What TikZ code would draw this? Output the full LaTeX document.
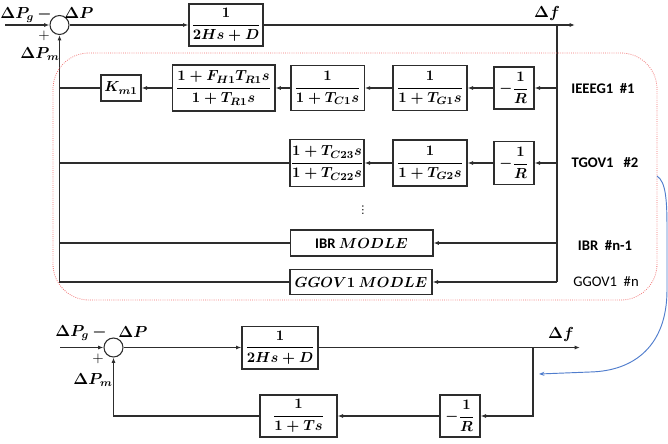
\documentclass[tikz,border=0pt]{standalone}
\usepackage{fontspec}
\setmainfont{Carlito}
\newfontfamily\dejavu{DejaVu Sans}
\usepackage{amsmath}
\usetikzlibrary{arrows.meta}
\definecolor{redbox}{RGB}{240,110,110}
\definecolor{bluec}{RGB}{80,125,205}
\definecolor{linec}{RGB}{45,45,45}
\begin{document}
\begin{tikzpicture}[x=0.75pt,y=-0.75pt,
  blk/.style={draw=linec, line width=1pt, inner sep=0pt, font=\fontsize{11}{13}\selectfont\boldmath},
  wire/.style={draw=linec, line width=0.8pt},
  arr/.style={wire, -{Latex[length=4pt,width=3pt]}},
  lbl/.style={font=\fontsize{11.5}{13}\selectfont\boldmath, inner sep=0pt},
  plus/.style={font=\fontsize{11}{13}\selectfont, inner sep=0pt},
  tag/.style={font=\fontsize{11}{13}\selectfont\bfseries, inner sep=0pt},
  tagn/.style={font=\fontsize{11}{13}\selectfont, inner sep=0pt},
  sumc/.style={circle, draw=linec, line width=0.8pt, minimum size=14.25pt, inner sep=0pt}]
\useasboundingbox (0,0) rectangle (668,443);

% ---------- top diagram ----------
\coordinate (in1) at (5,25);
\node[sumc] (s1) at (59.5,25) {};
\node[blk, minimum width=55.5pt, minimum height=31.5pt] (b1) at (226,25) {$\dfrac{1}{2Hs+D}$};
\coordinate (out1) at (575,25);
\coordinate (br1) at (557,25);

\node[lbl] (pg1) at (26,15) {$\Delta P_g\,-$};
\node[lbl] (dp1) at (79,13) {$\Delta P$};
\node[plus] (pl1) at (44,36) {$+$};
\node[lbl] (pm1) at (40,54) {$\Delta P_m$};
\node[lbl] (df1) at (547,13) {$\Delta f$};

% row 1
\node[blk, minimum width=30pt, minimum height=31.5pt] (r1) at (514,88) {$-\dfrac{1}{R}$};
\node[blk, minimum width=55.5pt, minimum height=33.75pt] (g1) at (430,88) {$\dfrac{1}{1+T_{G1}s}$};
\node[blk, minimum width=55pt, minimum height=33.75pt] (c1) at (327.5,88) {$\dfrac{1}{1+T_{C1}s}$};
\node[blk, minimum width=77pt, minimum height=34.5pt] (fh) at (223.5,88) {$\dfrac{1+F_{H1}T_{R1}s}{1+T_{R1}s}$};
\node[blk, minimum width=30pt, minimum height=19.5pt] (km) at (121,88) {$K_{m1}$};

% row 2
\node[blk, minimum width=30pt, minimum height=32pt] (r2) at (514,163) {$-\dfrac{1}{R}$};
\node[blk, minimum width=55.5pt, minimum height=34.5pt] (g2) at (430,163) {$\dfrac{1}{1+T_{G2}s}$};
\node[blk, minimum width=55.5pt, minimum height=35pt] (c2) at (327,163) {$\dfrac{1+T_{C23}s}{1+T_{C22}s}$};

\node[font=\dejavu\fontsize{8}{9}\selectfont, inner sep=0pt] (vd) at (363,210) {⋮};

% rows 3, 4
\node[blk, minimum width=107pt, minimum height=19.5pt] (ibr) at (361.5,243) {{\bfseries IBR} $MODLE$};
\node[blk, minimum width=106.5pt, minimum height=19pt] (gg) at (361,282) {$GGOV1\ MODLE$};

% right tags
\node[tag] (t1) at (603,89) {IEEEG1\ \ \#1};
\node[tag] (t2) at (605,163) {TGOV1\ \ \ \#2};
\node[tag] (t3) at (605,245) {IBR\ \ \#n-1};
\node[tagn] (t4) at (606,282) {GGOV1\ \ \#n};

% wires top
\draw[arr] (in1) -- (s1);
\draw[arr] (s1) -- (b1);
\draw[arr] (b1) -- (out1);
\draw[wire] (br1) -- (gg.east -| br1);
\draw[arr] (r1.east -| br1) -- (r1);
\draw[arr] (r1) -- (g1);
\draw[arr] (g1) -- (c1);
\draw[arr] (c1) -- (fh);
\draw[arr] (fh) -- (km);
\draw[wire] (km.west) -- (km.west -| s1);
\draw[arr] (r2.east -| br1) -- (r2);
\draw[arr] (r2) -- (g2);
\draw[arr] (g2) -- (c2);
\draw[wire] (c2.west) -- (c2.west -| s1);
\draw[arr] (ibr.east -| br1) -- (ibr);
\draw[wire] (ibr.west) -- (ibr.west -| s1);
\draw[arr] (gg.east -| br1) -- (gg);
\draw[arr] (gg.west) -- (gg.west -| s1) -- (s1.south);

% red group
\draw[redbox, densely dotted, line width=0.6pt, rounded corners=27pt] (53,53) rectangle (657,300);

% blue curve
\coordinate (bs) at (657,176);
\coordinate (be) at (539,374);
\draw[bluec, line width=0.7pt, -{Stealth[length=4pt,width=3pt]}] (bs) .. controls (666,182) and (667,200) .. (667,230) -- (667,290) .. controls (667,345) and (635,371) .. (590,372) -- (be);

% ---------- bottom diagram ----------
\coordinate (in2) at (60,347.5);
\node[sumc] (s2) at (113.5,347.5) {};
\node[blk, minimum width=57pt, minimum height=32pt] (b2) at (280,347.5) {$\dfrac{1}{2Hs+D}$};
\coordinate (out2) at (580,347.5);
\coordinate (br2) at (533,347.5);
\node[blk, minimum width=30pt, minimum height=31.5pt] (r3) at (460,416) {$-\dfrac{1}{R}$};
\node[blk, minimum width=57.75pt, minimum height=31.5pt] (tt) at (298.5,416) {$\dfrac{1}{1+Ts}$};

\node[lbl] (pg2) at (81,333) {$\Delta P_g\,-$};
\node[lbl] (dp2) at (133,332) {$\Delta P$};
\node[plus] (pl2) at (98,359) {$+$};
\node[lbl] (pm2) at (93,380) {$\Delta P_m$};
\node[lbl] (df2) at (561,334) {$\Delta f$};

\draw[arr] (in2) -- (s2);
\draw[arr] (s2) -- (b2);
\draw[arr] (b2) -- (out2);
\draw[arr] (br2) |- (r3.east);
\draw[arr] (r3) -- (tt);
\draw[arr] (tt.west) -| (s2.south);
\end{tikzpicture}
\end{document}
